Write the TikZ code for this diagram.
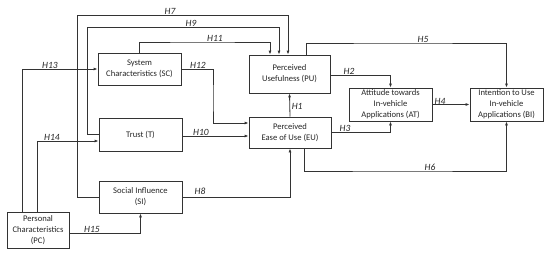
\documentclass[tikz,border=0pt]{standalone}
\usepackage{fontspec}
\setmainfont{Carlito}
\usetikzlibrary{arrows.meta,calc}

\begin{document}
\begin{tikzpicture}[x=1pt,y=-1pt,>={Latex[length=4pt,width=3pt]},
  box/.style={draw=black!80,line width=0.8pt,align=center,font=\fontsize{8.6}{11}\selectfont,text=black!85,inner sep=1pt},
  lbl/.style={font=\fontsize{9.5}{10}\selectfont\itshape,text=black!85,inner sep=0.6pt,anchor=south},
  link/.style={draw=black!80,line width=0.8pt,->}]
\useasboundingbox (0,0) rectangle (550,255);

\node[box,minimum width=83pt,minimum height=32pt] (sc) at (139.5,69) {System\\Characteristics (SC)};
\node[box,minimum width=83pt,minimum height=33pt] (t) at (140.5,134.5) {Trust (T)};
\node[box,minimum width=83pt,minimum height=32pt] (si) at (140.5,197) {Social Influence\\(SI)};
\node[box,minimum width=62pt,minimum height=36pt] (pc) at (38,230) {Personal\\Characteristics\\(PC)};
\node[box,minimum width=81pt,minimum height=38pt] (pu) at (289.5,74) {Perceived\\Usefulness (PU)};
\node[box,minimum width=82pt,minimum height=31pt] (eu) at (290,132.5) {Perceived\\Ease of Use (EU)};
\node[box,minimum width=83pt,minimum height=33pt] (at) at (390.5,104.5) {Attitude towards\\In-vehicle\\Applications (AT)};
\node[box,minimum width=73pt,minimum height=33pt] (bi) at (506.5,104.5) {Intention to Use\\In-vehicle\\Applications (BI)};

\coordinate (c7) at (77,15);
\coordinate (c9) at (87,27);
\coordinate (c11) at (200,42);
\coordinate (c12) at (213,100);
\coordinate (c13) at (22,69);
\coordinate (c14) at (37,141);
\coordinate (c5) at (400,43);
\coordinate (c6) at (400,171);

\draw[link] (si.west) -| (c7) -| ([xshift=-1.5pt]pu.north);
\draw[link] (t.west) -| (c9) -| ([xshift=-10.5pt]pu.north);
\draw[link] (sc.north) |- (c11) -| ([xshift=-19.5pt]pu.north);
\draw[link] (sc.east) -| (c12) |- ([yshift=9.5pt]eu.west);
\draw[link] (pc.north -| c13) |- (sc.west);
\draw[link] (pc.north -| c14) |- ([yshift=-6.5pt]t.west);
\draw[link] ([yshift=-1.5pt]t.east) -- ([yshift=-1.5pt]t.east -| eu.west);
\draw[link] (si.east) -| (eu.south);
\draw[link] ([yshift=-3pt]pc.east) -| (si.south);
\draw[link] (eu.north) -- (pu.south);
\draw[link] ([yshift=-1pt]pu.east) -| (at.north);
\draw[link] (eu.east) -| (at.south);
\draw[link] (at.east) -- (bi.west);
\draw[link] ([xshift=16.5pt]pu.north) |- (c5) -| (bi.north);
\draw[link] ([xshift=14pt]eu.south) |- (c6) -| (bi.south);

\node[lbl] (l7) at (170,15) {H7};
\node[lbl] (l9) at (191,27) {H9};
\node[lbl] (l11) at (215,42) {H11};
\node[lbl] (l13) at (50,69) {H13};
\node[lbl] (l12) at (198,69) {H12};
\node[lbl] (l14) at (52,141) {H14};
\node[lbl] (l10) at (201,136) {H10};
\node[lbl] (l8) at (200,195) {H8};
\node[lbl] (l15) at (92,233) {H15};
\node[lbl,anchor=west] (l1) at (291,106) {H1};
\node[lbl] (l2) at (349,75) {H2};
\node[lbl] (l3) at (345,132.5) {H3};
\node[lbl] (l4) at (440,105) {H4};
\node[lbl] (l5) at (423,43) {H5};
\node[lbl] (l6) at (430,171) {H6};
\end{tikzpicture}
\end{document}
